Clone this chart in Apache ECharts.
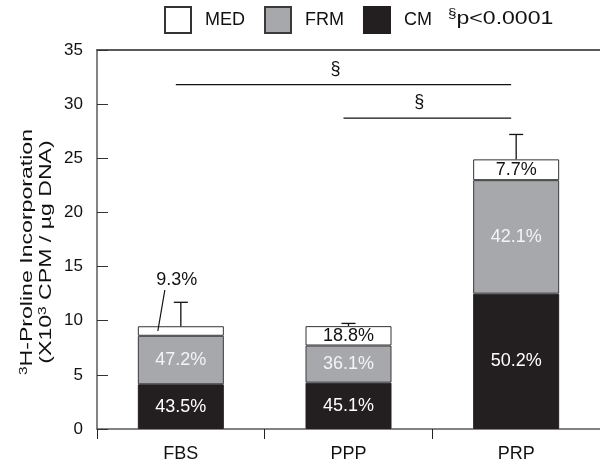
<!DOCTYPE html>
<html>
<head>
<meta charset="utf-8">
<script src="https://cdn.jsdelivr.net/npm/echarts@6/dist/echarts.min.js"></script>
<style>
  html, body { margin: 0; padding: 0; background: #fff; }
  #chart { width: 600px; height: 464px; }
</style>
</head>
<body>
<div id="chart"></div>
<script>
// Treatment groups along the x axis
var categories = ['FBS', 'PPP', 'PRP'];

// Stacked components (x10^3 CPM / ug DNA)
var cmValues  = [4.13, 4.28, 12.50];
var frmValues = [4.48, 3.43, 10.48];
var medValues = [0.88, 1.79, 1.92];

// Share of each component in the total, in percent
var cmPct  = [43.5, 45.1, 50.2];
var frmPct = [47.2, 36.1, 42.1];
var medPct = [9.3, 18.8, 7.7];

// Upper end of the error bars
var errTop = [11.7, 9.75, 27.2];

// Significance brackets: from category, to category, height
var sigFrom = [0, 1];
var sigTo   = [2, 2];
var sigY    = [31.8, 28.7];

var yTicks = [0, 5, 10, 15, 20, 25, 30, 35];

var FONT = 'Liberation Sans, Arial, Helvetica, sans-serif';
var AXIS_COLOR = '#5a5a5a';

var totals = categories.map(function (c, i) {
  return cmValues[i] + frmValues[i] + medValues[i];
});

function pctLabel(arr) {
  return function (p) { return arr[p.dataIndex].toFixed(1) + '%'; };
}

var chart = echarts.init(document.getElementById('chart'), null, { renderer: 'canvas' });

var option = {
  backgroundColor: '#ffffff',
  animation: false,
  textStyle: { fontFamily: FONT },
  grid: { left: 97, top: 50, width: 506, height: 379 },
  legend: {
    data: ['MED', 'FRM', 'CM'],
    left: 164,
    top: 6,
    padding: 0,
    itemWidth: 26,
    itemHeight: 26,
    itemGap: 19,
    icon: 'rect',
    selectedMode: false,
    textStyle: { fontSize: 18, color: '#111', fontFamily: FONT, padding: [0, 0, 0, 9] }
  },
  graphic: [{
    type: 'text',
    left: 448,
    top: 8,
    scaleX: 1.28,
    style: {
      text: '{s|§}{p|p<0.0001}',
      rich: {
        s: { fontSize: 12, fontFamily: FONT, fill: '#111', verticalAlign: 'top', lineHeight: 22 },
        p: { fontSize: 18, fontFamily: FONT, fill: '#111', lineHeight: 22 }
      }
    }
  }, {
    // y axis title, two lines reading upward
    type: 'text',
    x: 37,
    y: 252,
    rotation: Math.PI / 2,
    scaleX: 1.4,
    style: {
      text: '{sup|3}{t|H-Proline Incorporation}\n{t|(X10}{sup|3}{t| CPM / µg DNA)}',
      align: 'center',
      verticalAlign: 'middle',
      rich: {
        t: { fontSize: 16.5, fontFamily: FONT, fill: '#111', lineHeight: 19 },
        sup: { fontSize: 11, fontFamily: FONT, fill: '#111', verticalAlign: 'top', lineHeight: 19 }
      }
    }
  }],
  xAxis: [{
    type: 'category',
    data: categories,
    boundaryGap: true,
    axisLine: { lineStyle: { color: AXIS_COLOR, width: 1.5 } },
    axisTick: { show: true, inside: false, length: 10, lineStyle: { color: '#222', width: 1 } },
    axisLabel: { fontSize: 18, color: '#111', margin: 16, fontFamily: FONT }
  }, {
    type: 'category',
    data: categories,
    position: 'top',
    axisLine: { lineStyle: { color: AXIS_COLOR, width: 2 } },
    axisTick: { show: false },
    axisLabel: { show: false }
  }],
  yAxis: {
    type: 'value',
    min: yTicks[0],
    max: yTicks[yTicks.length - 1],
    interval: 5,
    splitLine: { show: false },
    axisLine: { show: true, lineStyle: { color: AXIS_COLOR, width: 1.5 } },
    axisTick: { show: true, inside: true, length: 11, lineStyle: { color: '#333' } },
    axisLabel: { fontSize: 17, color: '#111', margin: 14, fontFamily: FONT }
  },
  series: [
    {
      name: 'CM',
      type: 'bar',
      stack: 'total',
      barWidth: 86,
      data: cmValues,
      itemStyle: { color: '#231f20', borderColor: '#231f20', borderWidth: 1 },
      label: { show: true, position: 'inside', formatter: pctLabel(cmPct), color: '#ffffff', fontSize: 18, fontFamily: FONT }
    },
    {
      name: 'FRM',
      type: 'bar',
      stack: 'total',
      barWidth: 86,
      data: frmValues,
      itemStyle: { color: '#a7a8ab', borderColor: '#3a3a3a', borderWidth: 1 },
      label: { show: true, position: 'inside', formatter: pctLabel(frmPct), color: '#f4f4f4', fontSize: 18, fontFamily: FONT }
    },
    {
      name: 'MED',
      type: 'bar',
      stack: 'total',
      barWidth: 86,
      data: medValues.map(function (v, i) {
        // the thin FBS segment gets its label outside with a leader line
        return i === 0 ? { value: v, label: { show: false } } : v;
      }),
      itemStyle: { color: '#ffffff', borderColor: '#333333', borderWidth: 1 },
      label: { show: true, position: 'inside', formatter: pctLabel(medPct), color: '#111', fontSize: 18, fontFamily: FONT }
    },
    {
      // error bars rising from the top of each stack
      name: 'err',
      type: 'custom',
      xAxisIndex: 0,
      data: categories.map(function (c, i) { return [i, totals[i], errTop[i]]; }),
      encode: { x: 0, y: [1, 2] },
      z: 5,
      renderItem: function (params, api) {
        var base = api.coord([api.value(0), api.value(1)]);
        var top = api.coord([api.value(0), api.value(2)]);
        var half = 7;
        var st = { stroke: '#111', lineWidth: 1.3 };
        return {
          type: 'group',
          children: [
            { type: 'line', shape: { x1: base[0], y1: base[1], x2: top[0], y2: top[1] }, style: st },
            { type: 'line', shape: { x1: top[0] - half, y1: top[1], x2: top[0] + half, y2: top[1] }, style: st }
          ]
        };
      }
    },
    {
      // significance brackets with their marks
      name: 'sig',
      type: 'custom',
      xAxisIndex: 0,
      data: sigFrom.map(function (f, i) { return [f, sigTo[i], sigY[i]]; }),
      encode: { x: [0, 1], y: 2 },
      z: 5,
      renderItem: function (params, api) {
        var a = api.coord([api.value(0), api.value(2)]);
        var b = api.coord([api.value(1), api.value(2)]);
        var x1 = a[0] - 5, x2 = b[0] - 5;
        return {
          type: 'group',
          children: [
            { type: 'line', shape: { x1: x1, y1: a[1], x2: x2, y2: a[1] }, style: { stroke: '#111', lineWidth: 1.2 } },
            { type: 'text', style: { text: '§', x: (x1 + x2) / 2 - 8, y: a[1] - 16, align: 'center', verticalAlign: 'middle', fontSize: 18, fontFamily: FONT, fill: '#111' } }
          ]
        };
      }
    },
    {
      // outside label with leader line for the thin FBS medium segment
      name: 'note',
      type: 'custom',
      xAxisIndex: 0,
      data: [[0, cmValues[0] + frmValues[0] + medValues[0] / 2, medPct[0]]],
      encode: { x: 0, y: 1 },
      z: 6,
      renderItem: function (params, api) {
        var p = api.coord([api.value(0), api.value(1)]);
        return {
          type: 'group',
          children: [
            { type: 'line', shape: { x1: p[0] - 23, y1: p[1], x2: p[0] - 16, y2: p[1] - 41 }, style: { stroke: '#111', lineWidth: 1.2 } },
            { type: 'text', style: { text: api.value(2).toFixed(1) + '%', x: p[0] - 4, y: p[1] - 51, align: 'center', verticalAlign: 'middle', fontSize: 18, fontFamily: FONT, fill: '#111' } }
          ]
        };
      }
    }
  ]
};

chart.setOption(option);
</script>
</body>
</html>
